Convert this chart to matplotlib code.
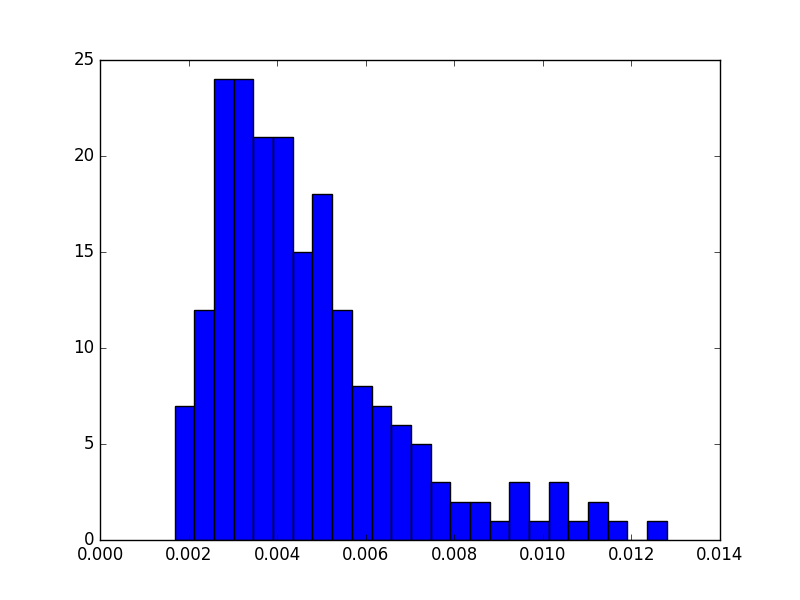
import numpy as np
import matplotlib
matplotlib.use("Agg")
import matplotlib.pyplot as plt

plt.style.use("classic")

bin_start = 0.001687
bin_end = 0.012797
counts = [7, 12, 24, 24, 21, 21, 15, 18, 12, 8, 7, 6, 5, 3, 2, 2, 1, 3, 1, 3, 1, 2, 1, 0, 1]
xticks = [0.000, 0.002, 0.004, 0.006, 0.008, 0.010, 0.012, 0.014]
yticks = [0, 5, 10, 15, 20, 25]

edges = np.linspace(bin_start, bin_end, len(counts) + 1)
centers = (edges[:-1] + edges[1:]) / 2

fig = plt.figure(figsize=(8, 6), dpi=100, facecolor="white")
ax = fig.add_axes([0.125, 0.1, 0.775, 0.8])
ax.hist(centers, bins=edges, weights=counts, color="blue", edgecolor="black", linewidth=1)
ax.set_xlim(0, 0.014)
ax.set_ylim(0, 25)
ax.set_xticks(xticks)
ax.set_xticklabels([f"{t:.3f}" for t in xticks])
ax.set_yticks(yticks)
fig.savefig("out.png", dpi=100, facecolor="white")
